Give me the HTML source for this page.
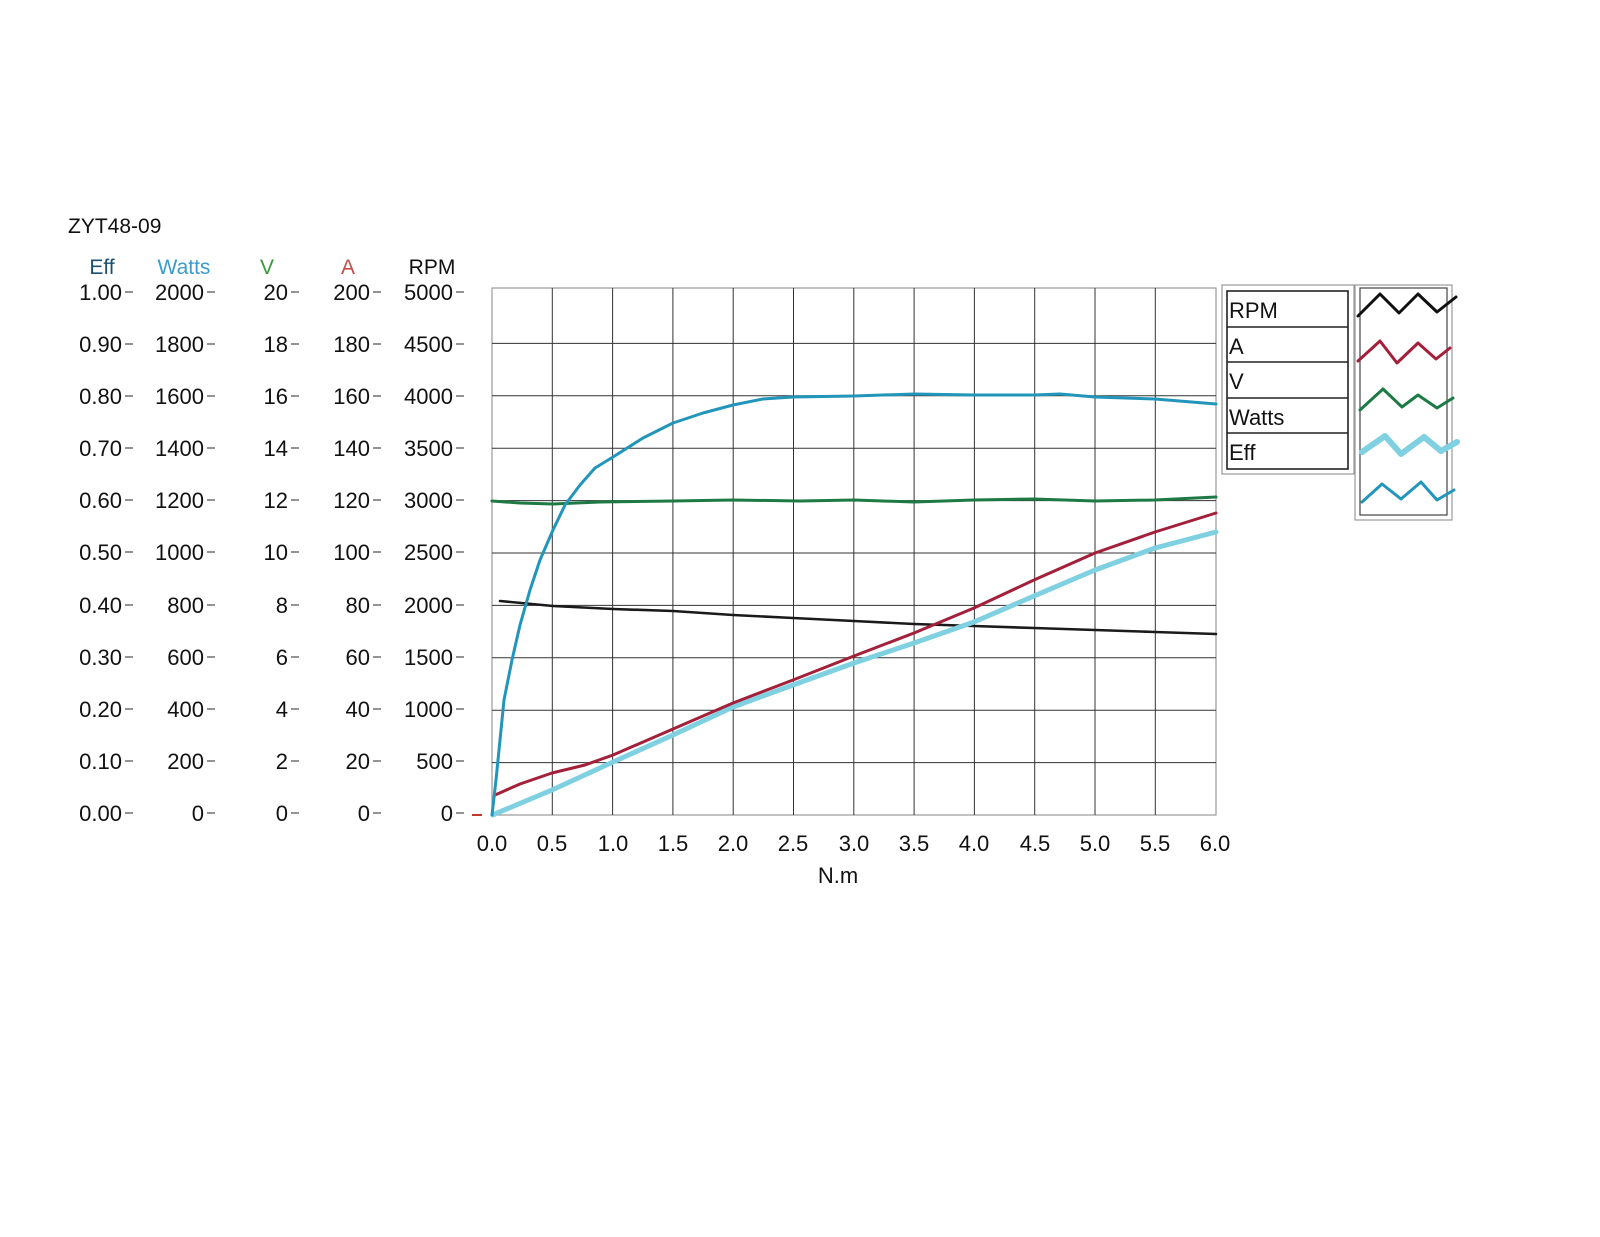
<!DOCTYPE html>
<html><head><meta charset="utf-8"><style>
html,body{margin:0;padding:0;background:#fff}
svg{display:block}
text{font-family:"Liberation Sans",sans-serif;font-size:22px;fill:#111}
</style></head><body>
<svg width="1600" height="1237" viewBox="0 0 1600 1237" xmlns="http://www.w3.org/2000/svg">
<text x="68" y="233" style="font-size:21px">ZYT48-09</text>
<g text-anchor="middle" style="font-size:21px">
<text x="102" y="274" style="fill:#1d4f73;font-size:21px">Eff</text>
<text x="184" y="274" style="fill:#3a9ccc;font-size:21px">Watts</text>
<text x="267" y="274" style="fill:#3a9a3a;font-size:21px">V</text>
<text x="348" y="274" style="fill:#c0504d;font-size:21px">A</text>
<text x="432" y="274" style="font-size:21px">RPM</text>
</g>
<g id="labels" text-anchor="end">
<text x="122" y="300">1.00</text><text x="204" y="300">2000</text><text x="288" y="300">20</text><text x="370" y="300">200</text><text x="453" y="300">5000</text>
<text x="122" y="352">0.90</text><text x="204" y="352">1800</text><text x="288" y="352">18</text><text x="370" y="352">180</text><text x="453" y="352">4500</text>
<text x="122" y="404">0.80</text><text x="204" y="404">1600</text><text x="288" y="404">16</text><text x="370" y="404">160</text><text x="453" y="404">4000</text>
<text x="122" y="456">0.70</text><text x="204" y="456">1400</text><text x="288" y="456">14</text><text x="370" y="456">140</text><text x="453" y="456">3500</text>
<text x="122" y="508">0.60</text><text x="204" y="508">1200</text><text x="288" y="508">12</text><text x="370" y="508">120</text><text x="453" y="508">3000</text>
<text x="122" y="560">0.50</text><text x="204" y="560">1000</text><text x="288" y="560">10</text><text x="370" y="560">100</text><text x="453" y="560">2500</text>
<text x="122" y="613">0.40</text><text x="204" y="613">800</text><text x="288" y="613">8</text><text x="370" y="613">80</text><text x="453" y="613">2000</text>
<text x="122" y="665">0.30</text><text x="204" y="665">600</text><text x="288" y="665">6</text><text x="370" y="665">60</text><text x="453" y="665">1500</text>
<text x="122" y="717">0.20</text><text x="204" y="717">400</text><text x="288" y="717">4</text><text x="370" y="717">40</text><text x="453" y="717">1000</text>
<text x="122" y="769">0.10</text><text x="204" y="769">200</text><text x="288" y="769">2</text><text x="370" y="769">20</text><text x="453" y="769">500</text>
<text x="122" y="821">0.00</text><text x="204" y="821">0</text><text x="288" y="821">0</text><text x="370" y="821">0</text><text x="453" y="821">0</text>
</g>
<g stroke="#555" stroke-width="1.2">
<path d="M125 292h8M207 292h8M291 292h8M373 292h8M456 292h8
M125 344h8M207 344h8M291 344h8M373 344h8M456 344h8
M125 396h8M207 396h8M291 396h8M373 396h8M456 396h8
M125 448h8M207 448h8M291 448h8M373 448h8M456 448h8
M125 500h8M207 500h8M291 500h8M373 500h8M456 500h8
M125 552h8M207 552h8M291 552h8M373 552h8M456 552h8
M125 605h8M207 605h8M291 605h8M373 605h8M456 605h8
M125 657h8M207 657h8M291 657h8M373 657h8M456 657h8
M125 709h8M207 709h8M291 709h8M373 709h8M456 709h8
M125 761h8M207 761h8M291 761h8M373 761h8M456 761h8
M125 813h8M207 813h8M291 813h8M373 813h8M456 813h8"/>
</g>
<path d="M472 815h10" stroke="#c0392b" stroke-width="2"/>
<rect x="492" y="288" width="724" height="527" fill="none" stroke="#999" stroke-width="1.2"/>
<g stroke="#333" stroke-width="1">
<path d="M552.3 288V815M612.6 288V815M672.9 288V815M733.2 288V815M793.5 288V815M853.8 288V815M914.1 288V815M974.4 288V815M1034.7 288V815M1095 288V815M1155.3 288V815"/>
<path d="M492 762.6H1216M492 710.2H1216M492 657.8H1216M492 605.4H1216M492 553H1216M492 500.6H1216M492 448.2H1216M492 395.8H1216M492 343.4H1216"/>
</g>
<g text-anchor="middle">
<text x="492" y="851">0.0</text><text x="552" y="851">0.5</text><text x="613" y="851">1.0</text><text x="673" y="851">1.5</text><text x="733" y="851">2.0</text><text x="793" y="851">2.5</text><text x="854" y="851">3.0</text><text x="914" y="851">3.5</text><text x="974" y="851">4.0</text><text x="1035" y="851">4.5</text><text x="1095" y="851">5.0</text><text x="1155" y="851">5.5</text><text x="1215" y="851">6.0</text>
<text x="838" y="883">N.m</text>
</g>
<g fill="none" stroke-linecap="round" stroke-linejoin="round">
<path d="M492 501 L520 503 L553 504 L600 502 L673 501 L733 500 L800 501 L854 500 L914 502 L974 500 L1034 499 L1095 501 L1155 500 L1216 497" stroke="#1e7a45" stroke-width="3"/>
<path d="M500 601 L553 606 L613 609 L673 611 L733 615 L793 618 L854 621 L914 624 L974 626 L1034 628 L1095 630 L1155 632 L1216 634" stroke="#1a1a1a" stroke-width="2.6"/>
<path d="M493 815 L497 813 L552 790 L613 762 L673 735 L733 707 L793 685 L854 663 L914 643 L974 622 L1034 596 L1095 570 L1155 548 L1216 532" stroke="#7fd0e0" stroke-width="5"/>
<path d="M495 795 L520 784 L552 773 L585 765 L613 755 L673 729 L733 703 L793 680 L854 656 L914 633 L974 608 L1034 580 L1095 553 L1155 532 L1216 513" stroke="#a3203a" stroke-width="3"/>
<path d="M492 815 L496 780 L500 740 L504 700 L512 660 L520 625 L530 590 L540 560 L553 530 L565 505 L580 485 L595 468 L613 457 L643 438 L673 423 L703 413 L733 405 L763 399 L793 397 L854 396 L914 394 L974 395 L1034 395 L1060 394 L1095 397 L1155 399 L1216 404" stroke="#2295bb" stroke-width="3"/>
</g>
<rect x="1222" y="285" width="132" height="189" fill="none" stroke="#999" stroke-width="1.2"/>
<g fill="none" stroke="#222" stroke-width="1.6">
<rect x="1227" y="291" width="121" height="178"/>
<path d="M1227 327H1348M1227 362H1348M1227 398H1348M1227 433H1348"/>
</g>
<text x="1229" y="318">RPM</text>
<text x="1229" y="354">A</text>
<text x="1229" y="389">V</text>
<text x="1229" y="425">Watts</text>
<text x="1229" y="460">Eff</text>
<rect x="1355" y="285" width="97" height="235" fill="none" stroke="#999" stroke-width="1.2"/>
<rect x="1360" y="288" width="87" height="227" fill="none" stroke="#444" stroke-width="1.2"/>
<g fill="none" stroke-linejoin="round" stroke-linecap="round">
<path d="M1358 316 L1380 294 L1399 313 L1418 294 L1437 312 L1456 297" stroke="#111" stroke-width="3"/>
<path d="M1358 361 L1380 341 L1397 363 L1418 343 L1436 359 L1450 348" stroke="#a3203a" stroke-width="3"/>
<path d="M1360 410 L1383 389 L1402 407 L1418 395 L1437 408 L1453 398" stroke="#1e7a45" stroke-width="3"/>
<path d="M1362 452 L1385 436 L1401 454 L1424 437 L1441 451 L1457 442" stroke="#7fd0e0" stroke-width="6"/>
<path d="M1362 502 L1382 484 L1401 499 L1421 482 L1437 500 L1454 490" stroke="#2295bb" stroke-width="3"/>
</g>
</svg>
</body></html>
